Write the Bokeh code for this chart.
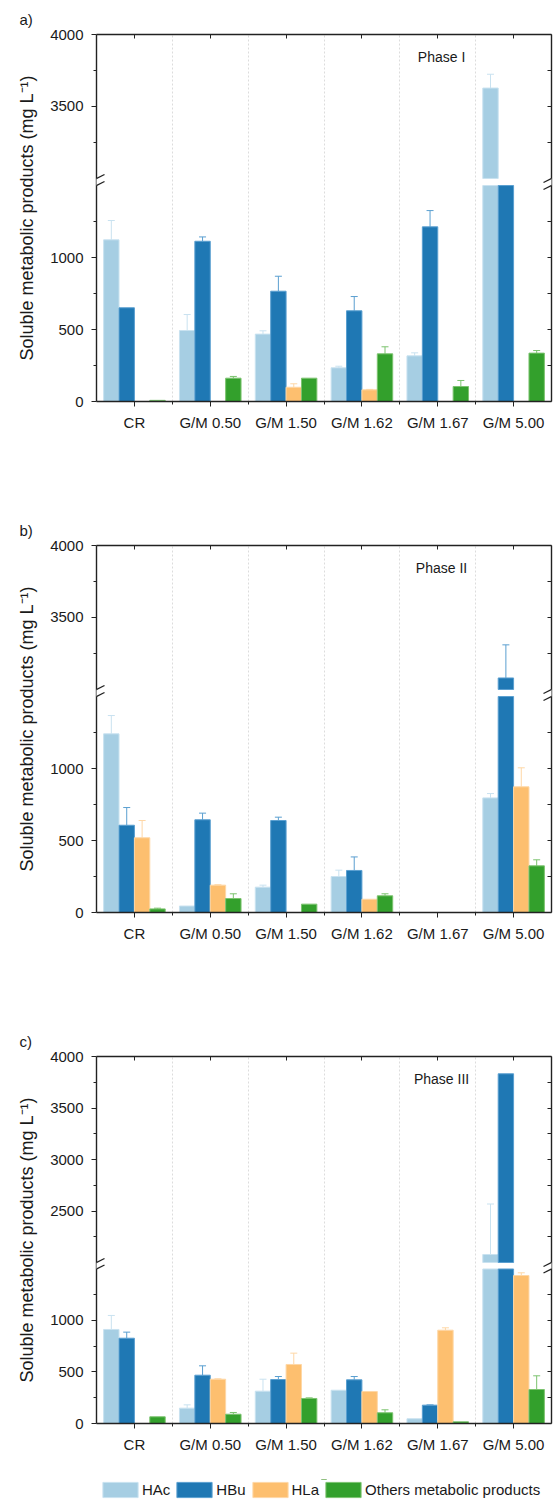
from bokeh.plotting import figure
from bokeh.models import (ColumnDataSource, FixedTicker, LinearAxis, Range1d, Label,
                          Legend, LegendItem, Whisker, TeeHead, PolyAnnotation, Arrow,
                          CustomJSTickFormatter)
from bokeh.layouts import column
from bokeh.embed import file_html
from bokeh.resources import INLINE

categories = ["CR", "G/M 0.50", "G/M 1.50", "G/M 1.62", "G/M 1.67", "G/M 5.00"]
series_names = ["HAc", "HBu", "HLa", "Others metabolic products"]
fill_colors = ["#a6cee3", "#1f78b4", "#fdbf6f", "#33a02c"]
edge_colors = ["#c9e2f0", "#5a9fd0", "#fed7a6", "#7cc36f"]

# Phase I
p1_hac = [1123, 493, 468, 234, 317, 3628]
p1_hac_err = [134, 111, 23, 11, 21, 96]
p1_hbu = [651, 1113, 766, 630, 1213, 2200]
p1_hbu_err = [0, 30, 104, 99, 113, 0]
p1_hla = [0, 0, 99, 81, 0, 0]
p1_hla_err = [0, 0, 24, 3, 0, 0]
p1_oth = [8, 162, 162, 331, 104, 336]
p1_oth_err = [0, 12, 0, 49, 42, 18]

# Phase II
p2_hac = [1241, 45, 176, 250, 0, 796]
p2_hac_err = [127, 0, 14, 44, 0, 30]
p2_hbu = [606, 644, 639, 292, 0, 3080]
p2_hbu_err = [123, 46, 23, 94, 0, 230]
p2_hla = [519, 190, 0, 92, 0, 873]
p2_hla_err = [120, 3, 0, 0, 0, 132]
p2_oth = [25, 97, 58, 116, 0, 324]
p2_oth_err = [5, 33, 0, 14, 0, 42]

# Phase III
p3_hac = [913, 149, 314, 323, 46, 2078]
p3_hac_err = [136, 32, 116, 0, 0, 490]
p3_hbu = [828, 469, 427, 424, 178, 3832]
p3_hbu_err = [59, 91, 29, 32, 3, 0]
p3_hla = [0, 430, 573, 311, 906, 1437]
p3_hla_err = [0, 4, 110, 0, 23, 26]
p3_oth = [65, 90, 243, 104, 16, 330]
p3_oth_err = [0, 17, 6, 29, 0, 133]

# axis segments (broken y axis)
lower_major = [0, 500, 1000]
lower_minor = [250, 750, 1250]
upper_major_ab = [3500, 4000]
upper_minor_ab = [3250, 3750]
upper_major_c = [2500, 3000, 3500, 4000]
upper_minor_c = [2250, 2750, 3250, 3750]

FONT = "Liberation Sans"
TXT = "#1a1a1a"
AX = "#222222"
FRAME_W = 455
FRAME_H = 367
BORDER_L = 96
BORDER_T = 34
FIG_W = BORDER_L + FRAME_W + 3


def make_panel(vals, errs, letter, phase, lo_top, hi_bot, gap, up_major, up_minor, height):
    def disp(v):
        if v <= lo_top:
            return v
        if v < hi_bot:
            return lo_top
        return lo_top + gap + (v - hi_bot)

    ymax = disp(4000)
    p = figure(width=FIG_W, height=height, x_range=Range1d(0, 6),
               y_range=Range1d(0, ymax), output_backend="svg", toolbar_location=None,
               min_border_left=BORDER_L, min_border_right=3, min_border_top=BORDER_T,
               min_border_bottom=height - BORDER_T - FRAME_H)
    p.outline_line_color = None
    p.background_fill_color = "white"
    p.border_fill_color = "white"
    px_x = 6 / FRAME_W
    px_y = ymax / FRAME_H

    p.title.text = letter
    p.title.align = "left"
    p.title.offset = -77
    p.title.standoff = 14
    p.title.text_font = FONT
    p.title.text_font_size = "15px"
    p.title.text_font_style = "normal"
    p.title.text_color = TXT

    # grid
    p.ygrid.visible = False
    p.xgrid.ticker = FixedTicker(ticks=[1, 2, 3, 4, 5])
    p.xgrid.grid_line_color = "#dcdcdc"
    p.xgrid.grid_line_dash = "2 2"
    p.xgrid.grid_line_width = 1

    centers = [i + 0.5 for i in range(len(categories))]
    # bottom axis
    xa = p.xaxis[0]
    xa.ticker = FixedTicker(ticks=centers, minor_ticks=[1, 2, 3, 4, 5])
    xa.major_label_overrides = {c: n for c, n in zip(centers, categories)}
    xa.major_label_text_font = FONT
    xa.major_label_text_font_size = "15px"
    xa.major_label_text_color = TXT
    xa.major_label_standoff = 7
    xa.major_tick_out = 5
    xa.major_tick_in = 0
    xa.minor_tick_out = 3
    xa.minor_tick_in = 0
    xa.axis_line_width = 1.4
    xa.axis_line_color = AX
    xa.major_tick_line_color = AX
    xa.minor_tick_line_color = AX

    # left axis
    maj = [disp(v) for v in lower_major + up_major]
    mnr = [disp(v) for v in lower_minor + up_minor]
    ya = p.yaxis[0]
    ya.ticker = FixedTicker(ticks=maj, minor_ticks=mnr)
    ya.major_label_overrides = {disp(v): str(v) for v in lower_major + up_major}
    ya.major_label_text_font = FONT
    ya.major_label_text_font_size = "15px"
    ya.major_label_text_color = TXT
    ya.major_label_standoff = 8
    ya.major_tick_out = 5
    ya.major_tick_in = 0
    ya.minor_tick_out = 3
    ya.minor_tick_in = 0
    ya.axis_line_width = 1.4
    ya.axis_line_color = AX
    ya.major_tick_line_color = AX
    ya.minor_tick_line_color = AX
    ya.axis_label = "Soluble metabolic products (mg L\u207b\u00b9)"
    ya.axis_label_text_font = FONT
    ya.axis_label_text_font_style = "normal"
    ya.axis_label_text_font_size = "18px"
    ya.axis_label_text_color = TXT
    ya.axis_label_standoff = 10

    blank = CustomJSTickFormatter(code="return ''")
    # top axis
    ta = LinearAxis(ticker=FixedTicker(ticks=centers, minor_ticks=[]), formatter=blank,
                    major_tick_in=4, major_tick_out=0, minor_tick_in=0, minor_tick_out=0,
                    axis_line_width=1.4, axis_line_color=AX,
                    major_tick_line_color=AX, major_label_standoff=0,
                    major_label_text_font_size="0px")
    p.add_layout(ta, "above")
    # right axis
    ra = LinearAxis(ticker=FixedTicker(ticks=sorted(maj + mnr), minor_ticks=[]), formatter=blank,
                    major_tick_in=4, major_tick_out=0, minor_tick_in=0, minor_tick_out=0,
                    axis_line_width=1.4, axis_line_color=AX,
                    major_tick_line_color=AX, major_label_standoff=0,
                    major_label_text_font_size="0px")
    p.add_layout(ra, "right")

    bw = 0.203
    offsets = [-1.5, -0.5, 0.5, 1.5]
    for k in range(4):
        v_list = vals[k]
        e_list = errs[k]
        xs = [c + offsets[k] * bw for c in centers]
        lo = dict(x=[], top=[])
        up = dict(x=[], bottom=[], top=[])
        wk = dict(x=[], lower=[], upper=[])
        for x, v, e in zip(xs, v_list, e_list):
            if v <= 0:
                continue
            lo["x"].append(x)
            lo["top"].append(disp(min(v, lo_top)))
            if v > hi_bot:
                up["x"].append(x)
                up["bottom"].append(disp(hi_bot))
                up["top"].append(disp(v))
            if e > 0:
                wk["x"].append(x)
                wk["lower"].append(disp(v))
                wk["upper"].append(disp(v + e))
        p.vbar(x="x", top="top", bottom=0, width=bw, source=ColumnDataSource(lo),
               fill_color=fill_colors[k], line_color=edge_colors[k], line_width=1)
        if up["x"]:
            p.vbar(x="x", top="top", bottom="bottom", width=bw, source=ColumnDataSource(up),
                   fill_color=fill_colors[k], line_color=edge_colors[k], line_width=1)
        if wk["x"]:
            w = Whisker(source=ColumnDataSource(wk), base="x", lower="lower", upper="upper",
                        dimension="height", line_color=edge_colors[k], line_width=1,
                        lower_head=None,
                        upper_head=TeeHead(size=7, line_color=edge_colors[k], line_width=1))
            p.add_layout(w)

    # break marks on left and right axes
    ymid = lo_top + gap / 2.0
    half = gap / 2.0
    for x0 in (0, 6):
        dx = 8 * px_x
        dy = 4 * px_y
        poly = PolyAnnotation(xs=[x0 - dx, x0 + dx, x0 + dx, x0 - dx],
                              ys=[ymid - half - dy, ymid - half + dy, ymid + half + dy, ymid + half - dy],
                              fill_color="white", fill_alpha=1, line_color=None)
        p.add_layout(poly)
        for s in (-1, 1):
            p.add_layout(Arrow(end=None, x_start=x0 - dx, y_start=ymid + s * half - dy,
                               x_end=x0 + dx, y_end=ymid + s * half + dy,
                               line_color=AX, line_width=1.3))

    # phase label
    p.add_layout(Label(x=4.55, y=ymax - 22 * px_y, text=phase, text_font=FONT,
                       text_font_size="14px", text_color=TXT, text_align="center",
                       text_baseline="middle"))
    return p


pa = make_panel([p1_hac, p1_hbu, p1_hla, p1_oth], [p1_hac_err, p1_hbu_err, p1_hla_err, p1_oth_err],
                "a)", "Phase I", 1500, 3000, 49, upper_major_ab, upper_minor_ab, 511)
pb = make_panel([p2_hac, p2_hbu, p2_hla, p2_oth], [p2_hac_err, p2_hbu_err, p2_hla_err, p2_oth_err],
                "b)", "Phase II", 1500, 3000, 49, upper_major_ab, upper_minor_ab, 511)
pc = make_panel([p3_hac, p3_hbu, p3_hla, p3_oth], [p3_hac_err, p3_hbu_err, p3_hla_err, p3_oth_err],
                "c)", "Phase III", 1500, 2000, 63, upper_major_c, upper_minor_c, 457)

# shared legend strip below the three panels (its swatch renderers sit outside the view)
pl = figure(width=FIG_W, height=22, x_range=Range1d(0, 1), y_range=Range1d(0, 1),
            output_backend="svg", toolbar_location=None, x_axis_type=None, y_axis_type=None,
            min_border_left=92, min_border_right=0, min_border_top=0, min_border_bottom=0)
pl.outline_line_color = None
pl.xgrid.visible = False
pl.ygrid.visible = False
leg_renderers = []
for k in range(4):
    r = pl.vbar(x="x", top="top", bottom="bottom", width=0.01,
                source=ColumnDataSource(dict(x=[0.5], top=[11.0], bottom=[10.0])),
                fill_color=fill_colors[k], line_color=edge_colors[k], line_width=1)
    leg_renderers.append(r)
items = [LegendItem(label=n, renderers=[r]) for n, r in zip(series_names, leg_renderers)]
lg = Legend(items=items, orientation="horizontal", location="bottom_left",
            glyph_width=44, glyph_height=19, label_text_font=FONT,
            label_text_font_size="15px", label_text_color=TXT, label_standoff=0,
            spacing=2, padding=0, margin=2, border_line_color=None,
            background_fill_alpha=0)
pl.add_layout(lg)

layout = column(pa, pb, pc, pl, spacing=0)
open("out.html", "w").write(file_html(layout, INLINE))
